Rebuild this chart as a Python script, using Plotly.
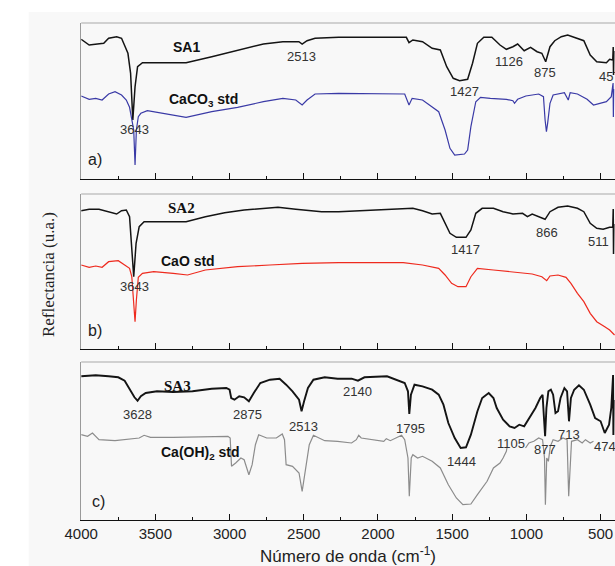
import plotly.graph_objects as go

# ---------------- data (wavenumber cm-1, reflectance u.a.) ----------------
sa1 = [(4000,139.7),(3946,134),(3891,135),(3848,135.7),(3815,140.7),(3761,142.3),(3728,140.7),(3707,134),
       (3685,125.7),(3667,105.7),(3652,59),(3637,92.3),(3620,112.3),(3587,116.3),(3489,116.3),(3293,116.3),
       (3120,122.3),(2946,129),(2772,135),(2641,137.3),(2533,137.3),(2511,135),(2478,138.3),(2424,140.7),
       (2265,141.7),(1809,141.7),(1791,136.3),(1765,139),(1700,137.3),(1635,130.7),(1580,129),(1537,112.3),
       (1493,100.7),(1450,98.3),(1396,99.7),(1363,115.7),(1330,135.7),(1287,141.7),(1233,141.7),(1178,134),
       (1135,129.7),(1091,132.3),(1059,135),(1015,128.3),(972,131.7),(928,127.3),(896,125.7),(870,117.3),
       (841,132.3),(809,138.3),(765,142.3),(722,144),(656,140.7),(613,138.3),(570,124),(526,117.3),
       (461,116.3),(439,119.7),(418,119),(415,132),(413,104),(411,128)]

caco3 = [(4000,83),(3946,79.7),(3902,80.7),(3859,79),(3815,85),(3772,87.3),(3728,84),(3696,79),(3674,71.7),
         (3659,59),(3646,49),(3637,14),(3628,49),(3615,62.3),(3598,65.7),(3554,68.3),(3293,61.7),(3120,67.3),
         (2946,71.7),(2772,77.3),(2641,80.7),(2554,79),(2511,74),(2478,79),(2424,85),(2265,85.7),(1820,85),
         (1791,74),(1770,80.7),(1700,79),(1635,72.3),(1591,67.3),(1548,49),(1515,30.7),(1483,24),(1417,25),
         (1396,29),(1374,52.3),(1341,77.3),(1309,81.7),(1243,80.7),(1135,79.7),(1091,78.3),(1080,75.7),
         (1059,79.7),(1004,83),(917,85),(885,82.3),(874,59),(865,47.3),(857,55.7),(841,75.7),(820,84),
         (744,86.3),(718,79),(705,86.3),(656,85),(591,79.7),(548,74),(504,75.7),(461,77.3),(428,82.3),
         (416,96),(414,62),(412,90)]

sa2 = [(4000,138.3),(3946,139.7),(3880,139.7),(3815,137.3),(3761,135),(3728,138.3),(3696,139),(3674,132.3),
       (3659,102.3),(3646,72.3),(3630,105.7),(3609,122.3),(3576,127.3),(3489,127.3),(3380,126.7),(3293,127.3),
       (3163,132.3),(3033,136.3),(2902,139),(2728,140.7),(2674,141.7),(2554,139.7),(2380,137.3),(2265,137.3),
       (1830,139.7),(1765,140.7),(1700,138.3),(1635,135),(1580,135.7),(1548,125.7),(1515,115.7),(1472,111.7),
       (1407,111.7),(1374,119),(1341,135.7),(1298,140.7),(1222,140.7),(1157,137.3),(1091,135),(1026,135.7),
       (993,132.3),(961,135),(917,132.3),(874,129.7),(841,137.3),(787,141.7),(722,143),(656,140.7),
       (613,137.3),(570,125.7),(526,120.7),(483,119.7),(439,121.7),(418,122),(415,140),(413,95),(411,125)]

cao = [(4000,84),(3946,81.7),(3902,83),(3859,81.7),(3815,87.3),(3750,88.3),(3707,84),(3674,80.7),(3659,72.3),
       (3646,49),(3637,27.3),(3628,49),(3615,71.7),(3587,75.7),(3511,77.3),(3380,75.7),(3283,74),(3163,79),
       (2946,82.3),(2728,84),(2511,85.7),(2265,86.3),(1830,86.3),(1700,84),(1591,80.7),(1548,74),(1504,65.7),
       (1461,62.3),(1407,62.3),(1374,72.3),(1330,80.7),(1222,79),(1091,77.3),(961,75),(896,72.3),(863,68.3),
       (841,73),(787,74),(733,71.7),(700,65.7),(656,55.7),(613,47.3),(570,35.7),(526,27.3),(472,22.3),
       (439,19),(406,14)]

sa3 = [(4000,143.7),(3902,144.7),(3815,143.7),(3750,142.7),(3707,139.3),(3674,130.3),(3641,122.7),(3620,119.3),
       (3598,123.7),(3565,127),(3489,128.7),(3380,128),(3250,128.7),(3120,131.3),(3022,132),(3000,130.3),
       (2989,122),(2967,120.3),(2935,123.7),(2902,122.7),(2870,118.7),(2837,127),(2793,137),(2728,140.3),
       (2663,141.3),(2619,135.3),(2576,128.7),(2532,120.3),(2515,108.7),(2498,118.7),(2472,132),(2435,140.3),
       (2359,142.7),(2272,141.3),(2178,141.3),(2135,139.3),(2091,142.7),(1939,143.7),(1863,139.3),(1820,137),
       (1798,128.7),(1789,106),(1778,125.3),(1754,135.3),(1700,133.7),(1635,130.3),(1591,125.3),(1559,115.3),
       (1526,97),(1483,82),(1443,72),(1407,72.7),(1374,85.3),(1330,108.7),(1298,122),(1254,127),(1222,122),
       (1200,112),(1157,100.3),(1113,93.7),(1080,92),(1048,95.3),(1015,93.7),(983,102),(939,112),(907,122),
       (891,125.3),(883,105.3),(874,83.7),(865,112),(852,128.7),(835,130.3),(820,125.3),(804,107),(787,108.7),
       (770,122),(744,132),(726,128.7),(713,98.7),(700,122),(678,130.3),(646,134.7),(613,130.3),(570,115.3),
       (537,102),(500,98.7),(472,87),(443,95.3),(428,112),(416,145),(414,85),(412,120)]

caoh2 = [(4000,85.3),(3957,83.7),(3924,87),(3880,80.3),(3772,79.3),(3609,82),(3576,84.7),(3533,82.7),
         (3380,82.7),(3163,83.7),(3011,83.7),(2996,82),(2987,53.7),(2959,57),(2924,62),(2902,60.3),(2870,45.3),
         (2848,55.3),(2826,75.3),(2804,85.3),(2750,82),(2685,82),(2645,86),(2630,80.3),(2619,55.3),(2576,53.7),
         (2532,47),(2511,28.7),(2489,48.7),(2463,75.3),(2435,84.7),(2359,79.3),(2272,78.7),(2178,77),
         (2146,80.3),(2130,84.7),(2113,82),(2048,80.3),(1961,78.7),(1944,81.3),(1917,79.3),(1841,84.7),
         (1820,80.3),(1798,62),(1789,23.7),(1776,62),(1765,65.3),(1733,62),(1700,63.7),(1635,58.7),(1580,52),
         (1526,35.3),(1472,22),(1428,15.3),(1374,16),(1330,25.3),(1265,38.7),(1222,52),(1178,57),(1157,62),
         (1135,68.7),(1131,72),(None,None),(1006,72),(983,77),(950,78.7),(917,82),(891,80.3),(878,62),
         (872,15.3),(863,62),(852,58.7),(848,62),(839,73.7),(820,80.3),(787,78.7),(754,82),(726,80.3),
         (715,23.7),(705,62),(696,78.7),(656,80.3),(624,77),(602,80.3),(570,77),(548,78.7)]

# peak labels: (text, wavenumber, y)
peaks_a = [("3643",3641,49),("2513",2515,122.3),("1427",1417,87.3),("1126",1120,117.3),("875",874,106.3),("457",439,102.3)]
peaks_b = [("3643",3641,62.3),("1417",1411,99.7),("866",863,116.3),("511",515,107.3)]
peaks_c = [("3628",3620,106),("2875",2880,106),("2513",2500,93.7),("2140",2139,128.7),("1795",1783,92),
           ("1444",1439,58.7),("1105",1102,77),("877",874,70.3),("713",711,86),("474",472,73.7)]

x_ticks = [4000, 3500, 3000, 2500, 2000, 1500, 1000, 500]
x_minor = [3750, 3250, 2750, 2250, 1750, 1250, 750]

# ---------------- figure ----------------
W, H = 615, 566
SANS = "Liberation Sans, Arial, sans-serif"
SERIF = "Liberation Serif, Times New Roman, serif"

def px_y(p):
    return 1 - p / H

panels = [  # (top px, bottom px, yrange)
    (23, 179, [0, 156]),
    (194, 349, [0, 155]),
    (362, 520, [0, 158]),
]
x0p = 66 / W

fig = go.Figure()

def unzip(pairs):
    return [p[0] for p in pairs], [p[1] for p in pairs]

series = [
    (sa1, "#141414", 1.5, "x", "y"),
    (caco3, "#3a3aa6", 1.2, "x", "y"),
    (sa2, "#141414", 1.5, "x2", "y2"),
    (cao, "#ee2a1e", 1.2, "x2", "y2"),
    (sa3, "#141414", 1.9, "x3", "y3"),
    (caoh2, "#8c8c8c", 1.2, "x3", "y3"),
]
for data, col, w, xa, ya in series:
    xs, ys = unzip(data)
    fig.add_trace(go.Scatter(x=xs, y=ys, mode="lines", line=dict(color=col, width=w),
                             xaxis=xa, yaxis=ya, showlegend=False, connectgaps=False,
                             hoverinfo="skip"))

layout = dict(width=W, height=H, margin=dict(l=0, r=0, t=0, b=0, pad=0), autosize=False,
              paper_bgcolor="white", plot_bgcolor="rgba(0,0,0,0)", showlegend=False)

for i, (top, bot, yr) in enumerate(panels):
    sfx = "" if i == 0 else str(i + 1)
    layout["xaxis" + sfx] = dict(
        domain=[x0p, 1], range=[4000, 403], autorange=False,
        tickmode="array", tickvals=x_ticks, ticktext=[str(t) for t in x_ticks],
        showticklabels=(i == 2), ticks="inside", ticklen=6, tickwidth=1.2, tickcolor="#111",
        minor=dict(tickmode="array", tickvals=x_minor,
                   ticks="inside", ticklen=3, tickwidth=1.2, tickcolor="#111"),
        showline=True, linecolor="#111", linewidth=1.3, showgrid=False, zeroline=False,
        tickfont=dict(family=SANS, size=15, color="#222"),
        anchor="y" + sfx)
    layout["yaxis" + sfx] = dict(
        domain=[px_y(bot), px_y(top)], range=yr, autorange=False,
        showticklabels=False, ticks="", showgrid=False, zeroline=False,
        showline=True, linecolor="#9a9a9a", linewidth=1, anchor="x" + sfx)

fig.update_layout(**layout)

shapes = [dict(type="rect", xref="paper", yref="paper", x0=12 / W, x1=1, y0=0, y1=px_y(12),
               fillcolor="#f8f8f8", line=dict(width=0), layer="below")]
for top, bot, yr in panels:
    shapes.append(dict(type="line", xref="paper", yref="paper", x0=x0p, x1=1, y0=px_y(top), y1=px_y(top),
                       line=dict(color="#a8a8a8", width=1)))
fig.update_layout(shapes=shapes)

ann = []
def add(text, x, y, xa, ya, font, size, bold=False, color="#222"):
    t = "<b>%s</b>" % text if bold else text
    ann.append(dict(text=t, x=x, y=y, xref=xa, yref=ya, showarrow=False,
                    font=dict(family=font, size=size, color=color), xanchor="center", yanchor="middle"))

for t, x, y in peaks_a:
    add(t, x, y, "x", "y", SANS, 13, color="#333")
for t, x, y in peaks_b:
    add(t, x, y, "x2", "y2", SANS, 13, color="#333")
for t, x, y in peaks_c:
    add(t, x, y, "x3", "y3", SANS, 13, color="#333")

add("SA1", 3287, 132.3, "x", "y", SANS, 14, bold=True, color="#111")
add("CaCO<sub>3</sub> std", 3174, 79, "x", "y", SANS, 14, bold=True, color="#111")
add("SA2", 3326, 140.7, "x2", "y2", SERIF, 15, bold=True, color="#111")
add("CaO std", 3283, 88.3, "x2", "y2", SANS, 14, bold=True, color="#111")
add("SA3", 3348, 133.7, "x3", "y3", SERIF, 15, bold=True, color="#111")
add("Ca(OH)<sub>2</sub> std", 3196, 67, "x3", "y3", SANS, 14, bold=True, color="#111")
add("a)", 3909, 19.7, "x", "y", SANS, 16, color="#222")
add("b)", 3909, 19, "x2", "y2", SANS, 16, color="#222")
add("c)", 3880, 18.7, "x3", "y3", SANS, 16, color="#222")

ann.append(dict(text="Número de onda (cm<sup>-1</sup>)", x=340 / W, y=px_y(555), xref="paper", yref="paper",
                showarrow=False, font=dict(family=SANS, size=17, color="#222"),
                xanchor="center", yanchor="middle"))
ann.append(dict(text="Reflectancia (u.a.)", x=32 / W, y=px_y(275), xref="paper", yref="paper",
                showarrow=False, textangle=-90, font=dict(family=SERIF, size=17, color="#222"),
                xanchor="center", yanchor="middle"))
fig.update_layout(annotations=ann)

fig.write_html("out.html", config={"displayModeBar": False},
               post_script="document.body.style.margin='0px';document.body.style.overflow='hidden';")
